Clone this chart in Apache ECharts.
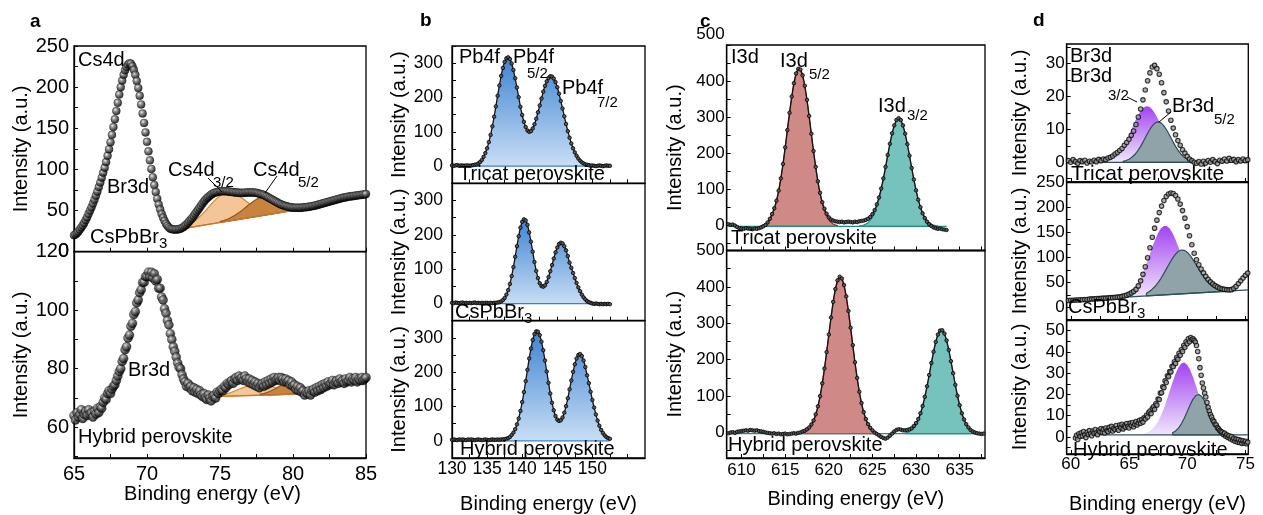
<!DOCTYPE html>
<html>
<head>
<meta charset="utf-8">
<title>XPS core-level spectra</title>
<script src="https://cdn.jsdelivr.net/npm/echarts@6/dist/echarts.min.js"></script>
<style>
  html, body { margin: 0; padding: 0; background: #ffffff; }
  #chart { width: 1263px; height: 515px; }
</style>
</head>
<body>
<div id="chart"></div>
<script>
// ---------------- measured spectra (binding energy grid: start + step) ----------------
// (a) Cs4d / Br3d region, 65–85 eV, 0.1 eV step
const A_START = 65.0, A_STEP = 0.1;
const aCsPbBr3 = [
  20,21,22.5,24.5,27,29.5,32,35,38.5,42,
  46,50,54,58.5,63,68,73,78.5,84,90,
  96,102,109,116.5,124.5,133,142,151.5,161,171,
  181,191,200,208,215,220.5,224.5,227.5,229,228.5,
  225.5,221,215,207.5,199,189.5,179,168,156.5,145,
  133.5,122,111,100.5,90.5,81,72.5,64.5,57.5,51.5,
  46,41.5,37.5,34,31.5,29.5,28,27.5,27,27,
  27,27,27.5,28,29,30,31.5,33,35,37,
  39,41,43.5,46,48.5,51,53.5,56,58.5,61,
  63,65,66.5,68,69.5,70.5,71.5,72,72.5,73,
  73.5,73.5,73.5,73.5,73.5,73.5,73,73,72.5,72.5,
  72,72,72,71.5,71.5,71.5,71.5,71.5,72,72,
  72,72,72,72,71.5,71.5,71,70.5,70,69.5,
  69,68,67,66,65,64,63,62,61,60,
  59,58,57.5,56.5,56,55.5,55,54.5,54,54,
  53.5,53.5,53.5,53.5,53.5,53.5,53.5,54,54,54,
  54.5,54.5,55,55.5,55.5,56,56.5,57,57.5,58,
  58.5,59,59.5,60,60.5,61,61.5,62,62.5,63,
  63.5,64,64.5,65,65.5,66,66,66.5,67,67,
  67.5,67.5,68,68,68.5,68.5,69,69,69.5,69.5,
  70
];
const aHybrid = [
  64,62.5,65,63.5,64.5,66,63,64.5,65.5,64,
  66,64.5,65,63.5,65.5,64.5,66.5,65,67,66.5,
  68.5,70,69.5,71.5,72.5,71.5,73,74,74.5,76,
  77.5,79,80,82.5,83.5,86.5,87.5,90.5,91.5,94.5,
  95.5,98.5,99.5,102.5,103.5,106,107,109.5,109.5,111.5,
  111.5,113,111.5,113,111,112.5,110,110.5,107.5,107.5,
  104.5,103.5,100.5,99,96.5,95,92,90,87.5,86,
  84,82,80.5,80,78,76.5,75.5,74,75,73.5,
  74,72.5,73.5,72,73,71.5,72.5,71,70.5,71.5,
  70,69.5,71,70,69,70.5,71,70,72,71.5,
  72.5,73,72.5,74,73.5,75,74.5,75.5,76,75,
  76.5,77,76,77.5,76.5,77,76,77.5,76.5,75.5,
  76.5,75,76,74.5,75.5,74,75,73.5,74.5,75,
  74,75.5,74.5,76,75,76.5,75.5,77,76,76.5,
  77,76,77,76.5,75.5,76.5,75.5,76,74.5,75.5,
  74,74.5,73,74,72.5,73.5,72,72.5,71,72,
  71.5,72.5,71,72.5,73,72,73.5,72.5,74,73,
  74.5,73.5,75,74,75.5,74.5,75,76,74.5,75.5,
  76,75,76.5,75.5,76,75,76.5,75.5,76,77,
  75.5,76.5,76,77,75.5,76.5,76,77,76,76.5,
  77
];
// (a) fitted Cs4d components and linear background
const aTopCs32 = [28.6,30.2,32.0,34.4,37.3,40.9,45.0,49.7,54.7,59.6,64.2,68.1,70.8,72.2,72.2,71.0,68.6,65.4,62.0,58.5,55.2,52.6,50.5,49.0,48.0,47.7,47.6,47.7];
const aTopCs32Start = 72.25;
const aTopCs32Base = [[79.0, 47.1], [72.25, 27.4]];
const aTopCs52 = [36.5,37.8,39.5,41.5,44.1,46.9,50.2,53.8,57.3,60.7,63.6,65.7,66.9,67.1,66.5,65.1,63.1,61.1,59.0,57.1,55.8,54.7,54.1,53.8,54.0];
const aTopCs52Start = 75.0;
const aTopCs52Base = [[81.0, 53.0], [75.0, 35.5]];
const aTopBackground = [[71.9, 26.4], [81.0, 53.0]];
const aBotCs32 = [70.6,70.8,71.0,71.2,71.5,71.9,72.4,72.9,73.4,73.9,74.4,74.7,74.9,74.9,74.8,74.5,74.1,73.6,73.2,72.7,72.4,72.1,71.8,71.7,71.6];
const aBotCs32Start = 74.5;
const aBotCs32Base = [[80.5, 71.4], [74.5, 70.5]];
const aBotCs52 = [71.3,71.5,71.95,72.5,73.1,73.85,74.5,75.0,75.26,75.2,74.86,74.3,73.7,73.1,72.6,72.2,71.9,71.8];
const aBotCs52Start = 77.75;
const aBotCs52Base = [[82.0, 71.6], [77.75, 71.0]];
const aBotBackground = [[73.85, 70.4], [82.1, 71.6]];

// (b) Pb4f, 130–152.5 eV, 0.25 eV step
const B_START = 130.0, B_STEP = 0.25;
const bTricat = [
  2,1,2,3,1,2,2,1,2,2,
  1,2,3,4,5,8,12,18,27,38,
  52,70,91,116,144,174,205,235,263,286,
  304,314,317,312,299,280,256,229,201,173,
  149,129,114,104,100,102,110,122,138,157,
  177,197,217,234,247,257,262,261,255,245,
  230,211,190,168,145,123,102,83,66,52,
  40,30,22,16,11,8,5,4,3,1,
  2,1,0,1,2,1,0,1,2,1,
  1
];
const bCsPbBr3 = [
  2,1,3,2,1,2,3,1,2,1,
  2,1,2,3,1,2,1,2,1,2,
  2,1,2,1,2,2,3,4,6,10,
  16,26,39,57,80,106,136,167,196,221,
  238,245,242,229,207,180,151,121,95,74,
  59,51,49,53,63,77,94,112,131,149,
  163,173,177,175,167,155,138,119,104,89,
  74,60,47,36,26,18,12,7,4,2,
  0,-1,0,-1,-2,-1,-2,-1,-2,-1,
  -2
];
const bHybrid = [
  3,4,3,2,4,3,4,3,2,4,
  3,4,3,2,3,4,3,2,3,4,
  3,2,3,4,3,3,4,3,4,4,
  5,6,8,11,17,24,34,48,65,87,
  113,142,174,207,240,269,294,311,319,318,
  308,289,264,234,202,169,138,111,89,72,
  62,58,60,68,82,101,124,150,176,201,
  223,240,250,253,247,234,215,191,168,143,
  119,97,77,59,44,32,23,16,11,8,
  6
];

// (c) I3d, 0.25 eV step
const C_START = 608.5, C_STEP = 0.25;
const cTricat = [
  3,1,2,-1,-5,-8,-9,-10,-8,-9,
  -10,-11,-9,-10,-8,-6,-3,1,8,18,
  31,47,68,96,130,170,216,264,312,357,
  394,421,434,432,416,387,348,303,254,206,
  162,122,90,64,46,32,22,16,13,11,
  10,9,10,8,9,10,9,8,10,9,
  11,12,13,15,18,23,31,42,58,77,
  102,130,162,195,226,255,277,292,297,292,
  277,254,225,193,159,127,97,71,50,33,
  20,10,3,-2,-6,-8,-10,-9,-11,-12,
  -13
];
const cHybrid = [
  -2,0,1,-1,2,3,4,5,6,5,
  7,6,5,6,4,3,2,0,-1,-2,
  -3,-2,-4,-3,-5,-4,-3,-5,-4,-3,
  -2,-3,-1,0,3,5,9,14,22,33,
  50,72,100,135,176,221,269,316,359,394,
  418,428,423,405,374,334,288,240,193,150,
  112,81,56,37,23,13,6,0,-4,-8,
  -12,-15,-17,-14,-9,-3,3,7,9,8,
  6,6,7,9,12,18,26,37,53,73,
  98,127,158,191,222,249,269,280,281,272,
  253,227,196,163,131,101,75,53,36,23,
  14,7,3,0,-2,-3,-4,-3
];
// (c) fitted I3d components (flat background at -3)
const cBackground = -3;
const cTriI52Start = 612.25;
const cTriI52 = [-0.6,1.3,4.4,9.4,17,28.1,43.8,65.1,92.6,126.7,167.1,212.5,260.8,309.1,353.8,391.1,417.6,430.8,429.3,413.3,384.4,345.3,299.6,251.1,203.1,158.6,119.4,86.6,60.3,40.3,25.6,15.3,8.3,3.7,0.9,-0.9];
const cTriI32Start = 623.5;
const cTriI32 = [-1.8,-0.9,0.7,3.3,7.3,13.4,22.2,34.3,50.5,71.1,96.1,125.2,157.2,190.5,222.7,251.5,274.3,289,294,289,274.3,251.5,222.7,190.5,157.2,125.2,96.1,71.1,50.5,34.3,22.2,13.4,7.3,3.3,0.7,-0.9,-1.8];
const cHybI52Start = 617.0;
const cHybI52 = [-0.3,1.8,5.1,10.5,18.6,30.3,46.8,68.9,97.3,132.1,173,218.4,266.2,313.3,356.1,390.9,414.6,424.7,420.3,401.9,371.2,331.1,285.3,237.4,190.7,147.8,110.4,79.5,54.9,36.3,22.8,13.3,7,2.9,0.4];
const cHybI32Start = 628.75;
const cHybI32 = [-1.3,0.1,2.5,6.2,12,20.4,32.3,48.3,68.8,93.9,123,154.9,187.7,218.9,245.9,266,277.1,278.2,269,250.5,224.7,194.1,161.5,129.2,99.5,73.5,52,35.2,22.5,13.4,7.2,3.1,0.5,-1.1];

// (d) Br3d
const D_START = 59.8, D_STEP = 0.2;
const dTricat = [
  0.5,0,0.8,0.2,-0.3,0.5,0.2,0.6,-0.2,0.3,
  0.1,0.6,0.2,0.9,0.5,1.0,0.8,1.3,1.5,1.9,
  2.5,3.0,3.6,4.2,5.2,6.0,7.0,8.2,9.5,11.5,
  13.8,16.2,19.0,22.0,24.8,27.2,29.0,29.5,28.5,26.8,
  24.2,21.2,18.4,15.6,12.8,10.4,8.4,6.6,5.2,3.8,
  2.8,1.8,1.0,0.5,0.0,-0.3,0.2,-0.5,0.3,-0.2,
  0.5,0.0,0.8,0.2,-0.4,0.6,0.3,1.0,0.4,1.2,
  0.6,0.9,0.2,0.8,0.4,1.0,0.5,0.8
];
const dCsPbBr3 = [
  14,14.5,14.5,15,15,15.5,15.5,16,16,16.5,
  17,17,17.5,17.5,18,18.5,18.5,19,19.5,19.5,
  20,20.5,21,22,23,24.5,26.5,29,32,36,
  43,53,66,81,99,119,140,158,174,189,
  202,213,221,226,228,227,223,216,206,193,
  178,161,143,125,108,95,85,76.5,69,62,
  56,51,47,43.5,41,38.5,37,36,35.5,35,
  35.5,38,42,47.5,53,58.5,64,68.5
];
const DH_START = 60.4, DH_STEP = 0.1;
const dHybrid = [
  -0.5,0.8,-1.2,1.5,0.2,2.0,0.5,2.6,1.0,-0.3,
  2.2,1.2,3.0,1.5,0.6,2.8,1.8,3.5,2.0,1.1,
  3.2,2.4,4.0,2.2,3.6,1.9,4.2,3.0,2.5,4.5,
  3.3,5.0,2.8,4.1,3.5,5.4,4.0,3.2,5.6,4.4,
  6.0,3.8,5.2,4.6,6.3,5.0,4.2,6.5,5.4,6.8,
  4.8,6.0,7.2,5.6,6.6,7.8,6.4,8.2,7.0,9.0,
  8.4,10.2,9.4,11.5,12.2,11.0,13.4,14.2,13.0,15.6,
  15.0,17.8,17.6,20.6,20.8,23.6,23.2,26.4,25.6,28.8,
  28.4,30.8,30.6,33.2,33.0,35.4,34.6,37.4,36.6,39.4,
  38.4,41.0,40.2,43.0,42.2,44.8,43.8,46.2,44.8,46.8,
  45.8,46.2,45.4,44.6,43.0,40.2,36.8,32.6,29.0,25.4,
  23.0,20.6,18.8,16.2,14.0,12.2,10.6,9.4,8.0,7.2,
  6.0,5.6,4.4,3.8,3.0,2.6,2.2,1.2,1.8,0.4,
  1.0,-0.2,0.6,-0.8,0.2,-1.4,-0.6,-2.0,-1.0,-2.4,
  -1.2,-2.6,-1.6,-3.0,-1.8,-2.8,-2.0,-3.2,-2.4
];
// (d) fitted Br3d components, 0.25 eV step
const dTriBr32Start = 62.75;
const dTriBr32 = [0.24,0.41,0.68,1.09,1.68,2.5,3.57,4.93,6.56,8.4,10.37,12.34,14.15,15.64,16.65,17.09,16.9,16.1,14.79,13.09,11.17,9.18,7.27,5.55,4.08,2.9,1.98,1.3,0.83,0.51,0.3];
const dTriBr52Start = 64.5;
const dTriBr52 = [0.3,0.54,0.93,1.52,2.36,3.47,4.85,6.45,8.14,9.75,11.09,11.99,12.3,11.99,11.09,9.75,8.14,6.45,4.85,3.47,2.36,1.52,0.93,0.54,0.3];
const dTriBackground = [[59.8, 0], [75.2, 0]];
const dCsBr32Start = 64.5;
const dCsBr32 = [23.1,25.5,28.8,33.7,40.2,48.8,59.6,72.7,87.6,103.7,120.1,135.3,148.3,157.7,162.5,162.4,157.2,147.8,134.9,120,104.3,89,75.1,63.2,53.5,46,40.5,36.7,34.3,32.8,32.0];
const dCsBr32Base = [[72.0, 30.4], [64.5, 20.1]];
const dCsBr52Start = 66.5;
const dCsBr52 = [28.5,31.8,36.4,42.2,49.5,58.1,67.9,78.4,88.7,98.4,106.3,111.9,114.4,113.8,110.1,103.7,95.4,85.8,76.1,66.6,58.2,51,45.2,40.9,37.8,35.7,34.4,33.7];
const dCsBr52Base = [[73.25, 32.2], [66.5, 22.9]];
const dCsBackground = [[59.65, 13.5], [75.25, 34.9]];
const dHybBr32Start = 66.25;
const dHybBr32 = [1.5,2.0,2.7,3.7,5.2,7.3,10.1,13.5,17.4,21.6,25.9,29.7,32.7,34.5,35.0,34.0,31.6,28.2,24.2,19.9,15.8,12.0,8.9,6.4,4.6,3.2,2.3,1.8];
const dHybBr32Base = [[73.0, 1], [66.25, 1]];
const dHybBr52Start = 68.75;
const dHybBr52 = [2.0,2.8,4.2,6.2,8.8,11.9,15.0,17.8,19.5,20.0,19.0,16.8,13.8,10.6,7.7,5.3,3.6,2.4,1.7];
const dHybBr52Base = [[73.25, 1], [68.75, 1]];
const dHybBackground = [[60.4, 1], [75.2, 1]];

// ---------------- axis ticks and tick labels ----------------
const aTicksX = [65,67.5,70,72.5,75,77.5,80,82.5,85];
const aLabelsX = [65,70,75,80,85];
const bTicksX = [130,132.5,135,137.5,140,142.5,145,147.5,150,152.5,155];
const bLabelsX = [130,135,140,145,150];
const cTicksX = [610,612.5,615,617.5,620,622.5,625,627.5,630,632.5,635,637.5];
const cLabelsX = [610,615,620,625,630,635];
const dTicksX = [60,62.5,65,67.5,70,72.5,75];
const dLabelsX = [60,65,70,75];
const aTopTicksY = [0,25,50,75,100,125,150,175,200,225,250];
const aTopLabelsY = [0,50,100,150,200,250];
const aBotTicksY = [50,60,70,80,90,100,110,120];
const aBotLabelsY = [60,80,100,120];
const bTicksY = [-50,0,50,100,150,200,250,300,350];
const bLabelsY = [0,100,200,300];
const cTicksY = [-50,0,50,100,150,200,250,300,350,400,450,500];
const cLabelsY = [0,100,200,300,400,500];
const dTopTicksY = [-5,0,5,10,15,20,25,30,35];
const dTopLabelsY = [0,10,20,30];
const dMidTicksY = [-25,0,25,50,75,100,125,150,175,200,225,250];
const dMidLabelsY = [0,50,100,150,200,250];
const dBotTicksY = [-5,0,5,10,15,20,25,30,35,40,45,50,55];
const dBotLabelsY = [0,10,20,30,40,50];

// ---------------- building the chart ----------------
const FONT = '"Liberation Sans", Arial, Helvetica, sans-serif';

function grid(start, step, vals) {
  return vals.map((v, i) => [Math.round((start + i * step) * 1000) / 1000, v]);
}

// panel frames: [left, top, width, height]
const frames = [
  [74, 46, 292, 205.7], [74, 251.7, 292, 206.3],
  [452, 46, 193, 137.3], [452, 183.3, 193, 137.4], [452, 320.7, 193, 137.3],
  [726.7, 45, 258.3, 205.5], [726.7, 250.5, 258.3, 207.5],
  [1066.7, 44, 181.6, 138], [1066.7, 182, 181.6, 138], [1066.7, 320, 181.6, 138]
];

// per panel: x range, ticks, labels, font size, whether bottom
const xSpec = [
  [65, 85, aTicksX, aLabelsX, 20, false, 6, 20],
  [65, 85, aTicksX, aLabelsX, 20, true, 6, 20],
  [130, 157.5, bTicksX, bLabelsX, 17.5, false, 2, 36],
  [130, 157.5, bTicksX, bLabelsX, 17.5, false, 2, 36],
  [130, 157.5, bTicksX, bLabelsX, 17.5, true, 2, 36],
  [608.3, 637.9, cTicksX, cLabelsX, 17, false, 4, 31],
  [608.3, 637.9, cTicksX, cLabelsX, 17, true, 4, 31],
  [59.65, 75.25, dTicksX, dLabelsX, 17, false, 2, 40],
  [59.65, 75.25, dTicksX, dLabelsX, 17, false, 2, 40],
  [59.65, 75.25, dTicksX, dLabelsX, 17, true, 2, 40]
];
const ySpec = [
  [0, 250, aTopTicksY, aTopLabelsY, 20, 5, 41],
  [49.5, 120, aBotTicksY, aBotLabelsY, 20, 5, 41],
  [-50, 350, bTicksY, bLabelsY, 17.5, 9, 38],
  [-50, 350, bTicksY, bLabelsY, 17.5, 9, 38],
  [-50, 350, bTicksY, bLabelsY, 17.5, 9, 38],
  [-70, 500, cTicksY, cLabelsY, 17, 2, 41],
  [-70, 500, cTicksY, cLabelsY, 17, 2, 41],
  [-6, 36, dTopTicksY, dTopLabelsY, 17, 2, 36],
  [-25, 250, dMidTicksY, dMidLabelsY, 17, 2, 36],
  [-8, 55, dBotTicksY, dBotLabelsY, 17, 2, 36]
];

const grids = frames.map(f => ({
  left: f[0], top: f[1], width: f[2], height: f[3],
  show: true, borderColor: '#000', borderWidth: 1.3, backgroundColor: 'transparent'
}));

const xAxes = xSpec.map((s, i) => ({
  type: 'value', gridIndex: i, min: s[0], max: s[1],
  axisLine: { show: true, onZero: false, lineStyle: { color: '#000', width: 1.3 } },
  axisTick: { show: true, inside: true, length: 4, customValues: s[2], lineStyle: { color: '#000', width: 1 } },
  axisLabel: { show: s[5], customValues: s[3], fontSize: s[4], fontFamily: FONT, color: '#000', margin: s[6] },
  splitLine: { show: false },
  name: s[5] ? 'Binding energy (eV)' : '',
  nameLocation: 'middle', nameGap: s[7],
  nameTextStyle: { fontSize: 20, fontFamily: FONT, color: '#000', padding: i === 1 ? [0, 15, 0, 0] : 0 }
}));

const yAxes = ySpec.map((s, i) => {
  const label = { customValues: s[3], fontSize: s[4], fontFamily: FONT, color: '#000', margin: s[5] };
  if (i === 5) {
    // the top tick label of the upper I3d frame sits a little higher
    label.formatter = v => (v === 500 ? '{hi|500}' : String(v));
    label.rich = { hi: { fontSize: s[4], fontFamily: FONT, color: '#000', padding: [0, 0, 22, 0] } };
  }
  return {
    type: 'value', gridIndex: i, min: s[0], max: s[1],
    axisLine: { show: true, onZero: false, lineStyle: { color: '#000', width: 1.3 } },
    axisTick: { show: true, inside: true, length: 4, customValues: s[2], lineStyle: { color: '#000', width: 1 } },
    axisLabel: label,
    splitLine: { show: false },
    name: 'Intensity (a.u.)', nameLocation: 'middle', nameGap: s[6],
    nameTextStyle: { fontSize: 20, fontFamily: FONT, color: '#000' }
  };
});

const lin = (c0, c1) => new echarts.graphic.LinearGradient(0, 0, 0, 1, [
  { offset: 0, color: c0 }, { offset: 1, color: c1 }
]);

// filled fit component: upper curve from the fit values, closed along its background
function fitFill(g, start, step, vals, base, fill, stroke, z) {
  const upper = grid(start, step, vals);
  return {
    type: 'custom', xAxisIndex: g, yAxisIndex: g, z: z, silent: true, clip: true,
    data: [upper[0]], encode: { x: 0, y: 1 },
    renderItem: function (params, api) {
      const ring = upper.concat(base).map(p => api.coord(p));
      return {
        type: 'polygon', shape: { points: ring },
        style: { fill: fill, stroke: stroke, lineWidth: stroke ? 1.2 : 0, lineJoin: 'round' }
      };
    }
  };
}

function straight(g, pts, color, width, z) {
  return {
    type: 'line', xAxisIndex: g, yAxisIndex: g, data: pts, z: z || 2, silent: true,
    symbol: 'none', lineStyle: { color: color, width: width || 1.2 }
  };
}

const sphere = {
  type: 'radial', x: 0.38, y: 0.35, r: 0.68,
  colorStops: [
    { offset: 0, color: '#f2f2f2' }, { offset: 0.3, color: '#7c7c7c' },
    { offset: 0.75, color: '#1c1c1c' }, { offset: 1, color: '#000000' }
  ]
};

function spheres(g, data, size) {
  return {
    type: 'scatter', xAxisIndex: g, yAxisIndex: g, data: data, z: 4, silent: true,
    symbol: 'circle', symbolSize: size, itemStyle: { color: sphere, borderColor: '#000', borderWidth: 0.4 }
  };
}

function beaded(g, data) {
  return {
    type: 'line', xAxisIndex: g, yAxisIndex: g, data: data, z: 4, silent: true, smooth: 0.2,
    symbol: 'circle', symbolSize: 3.5, showSymbol: true,
    lineStyle: { color: '#151515', width: 1.3 },
    itemStyle: { color: '#5a5a5a', borderColor: '#000', borderWidth: 0.8 }
  };
}

function dots(g, data, size) {
  return {
    type: 'scatter', xAxisIndex: g, yAxisIndex: g, data: data, z: 4, silent: true,
    symbol: 'circle', symbolSize: size,
    itemStyle: { color: '#9a9a9a', borderColor: '#0a0a0a', borderWidth: 1.1 }
  };
}

const CS32_FILL = '#f3c597', CS32_EDGE = '#d9862c';
const CS52_FILL = '#c8843f', CS52_EDGE = '#8e561e';
const BLUE_EDGE = '#3b7fd0';
const RED_FILL = '#cf8987', RED_EDGE = '#b3262e';
const TEAL_FILL = '#76c2bc', TEAL_EDGE = '#1f8f86';
const GREY_FILL = '#8fa3a9', GREY_EDGE = '#2c5058';

const bFill = () => lin('#3f84d2', '#c9def5');
const purple = () => lin('#a243f2', '#f1e6fb');

const series = [
  // (a)
  fitFill(0, aTopCs32Start, 0.25, aTopCs32, aTopCs32Base, CS32_FILL, CS32_EDGE, 1),
  fitFill(0, aTopCs52Start, 0.25, aTopCs52, aTopCs52Base, CS52_FILL, CS52_EDGE, 1),
  straight(0, aTopBackground, '#c9772a', 1.3),
  spheres(0, grid(A_START, A_STEP, aCsPbBr3), 8),
  fitFill(1, aBotCs32Start, 0.25, aBotCs32, aBotCs32Base, CS32_FILL, CS32_EDGE, 1),
  fitFill(1, aBotCs52Start, 0.25, aBotCs52, aBotCs52Base, CS52_FILL, CS52_EDGE, 1),
  straight(1, aBotBackground, '#c9772a', 1.3),
  spheres(1, grid(A_START, A_STEP, aHybrid), 9),
  // (b)
  fitFill(2, B_START, B_STEP, bTricat, [[152.5, 0], [130, 0]], bFill(), null, 1),
  straight(2, [[130, 0], [152.5, 0]], BLUE_EDGE, 1.2),
  beaded(2, grid(B_START, B_STEP, bTricat)),
  fitFill(3, B_START, B_STEP, bCsPbBr3, [[152.5, 0], [130, 0]], bFill(), null, 1),
  straight(3, [[130, 0], [152.5, 0]], BLUE_EDGE, 1.2),
  beaded(3, grid(B_START, B_STEP, bCsPbBr3)),
  fitFill(4, B_START, B_STEP, bHybrid, [[152.5, 0], [130, 0]], bFill(), null, 1),
  straight(4, [[130, 0], [152.5, 0]], BLUE_EDGE, 1.2),
  beaded(4, grid(B_START, B_STEP, bHybrid)),
  // (c)
  fitFill(5, cTriI52Start, 0.25, cTriI52, [[621.0, cBackground], [612.25, cBackground]], RED_FILL, RED_EDGE, 1),
  fitFill(5, cTriI32Start, 0.25, cTriI32, [[632.5, cBackground], [623.5, cBackground]], TEAL_FILL, TEAL_EDGE, 1),
  straight(5, [[608.5, cBackground], [633.5, cBackground]], TEAL_EDGE, 1.3),
  beaded(5, grid(C_START, C_STEP, cTricat)),
  fitFill(6, cHybI52Start, 0.25, cHybI52, [[625.5, cBackground], [617.0, cBackground]], RED_FILL, RED_EDGE, 1),
  fitFill(6, cHybI32Start, 0.25, cHybI32, [[637.0, cBackground], [628.75, cBackground]], TEAL_FILL, TEAL_EDGE, 1),
  straight(6, [[608.5, cBackground], [637.75, cBackground]], TEAL_EDGE, 1.3),
  beaded(6, grid(C_START, C_STEP, cHybrid)),
  // (d)
  fitFill(7, dTriBr32Start, 0.25, dTriBr32, [[70.25, 0], [62.75, 0]], purple(), null, 1),
  fitFill(7, dTriBr52Start, 0.25, dTriBr52, [[70.5, 0], [64.5, 0]], GREY_FILL, GREY_EDGE, 1),
  straight(7, dTriBackground, GREY_EDGE, 1.2),
  dots(7, grid(D_START, D_STEP, dTricat), 4.5),
  fitFill(8, dCsBr32Start, 0.25, dCsBr32, dCsBr32Base, purple(), null, 1),
  fitFill(8, dCsBr52Start, 0.25, dCsBr52, dCsBr52Base, GREY_FILL, GREY_EDGE, 1),
  straight(8, dCsBackground, GREY_EDGE, 1.2),
  dots(8, grid(D_START, D_STEP, dCsPbBr3), 4.5),
  fitFill(9, dHybBr32Start, 0.25, dHybBr32, dHybBr32Base, purple(), null, 1),
  fitFill(9, dHybBr52Start, 0.25, dHybBr52, dHybBr52Base, GREY_FILL, GREY_EDGE, 1),
  straight(9, dHybBackground, GREY_EDGE, 1.2),
  dots(9, grid(DH_START, DH_STEP, dHybrid), 4.5)
];

// ---------------- annotations ----------------
function T(x, y, text, size, weight) {
  return {
    type: 'text', x: x, y: y, z: 100, silent: true,
    style: {
      text: text, fill: '#000',
      font: (weight || 'normal') + ' ' + (size || 20) + 'px ' + FONT,
      textAlign: 'left', textVerticalAlign: 'middle', align: 'left', verticalAlign: 'middle'
    }
  };
}
function L(x1, y1, x2, y2) {
  return { type: 'line', z: 100, silent: true, shape: { x1: x1, y1: y1, x2: x2, y2: y2 }, style: { stroke: '#000', lineWidth: 1 } };
}

const notes = [
  // (a)
  T(30, 22, 'a', 19, 'bold'),
  T(78, 60, 'Cs4d'),
  T(107, 187, 'Br3d'),
  T(90, 237, 'CsPbBr'), T(159, 244, '3', 15),
  T(168, 170, 'Cs4d'), T(213, 183, '3/2', 15),
  T(253, 170, 'Cs4d'), T(298, 183, '5/2', 15),
  L(208, 178, 222, 192), L(277, 176, 265, 193),
  T(128, 370, 'Br3d'),
  T(78, 437, 'Hybrid perovskite'),
  // (b)
  T(420, 21, 'b', 19, 'bold'),
  T(459, 57, 'Pb4f'),
  T(513, 57, 'Pb4f'), T(527, 74, '5/2', 15),
  T(562, 88, 'Pb4f'), T(597, 103, '7/2', 15),
  T(459, 174, 'Tricat perovskite'),
  T(455, 312, 'CsPbBr'), T(524, 319, '3', 15),
  T(460, 449, 'Hybrid perovskite'),
  // (c)
  T(700, 22, 'c', 19, 'bold'),
  T(731, 57, 'I3d'),
  T(780, 61, 'I3d'), T(809, 75, '5/2', 15),
  T(878, 106, 'I3d'), T(907, 116, '3/2', 15),
  T(731, 238, 'Tricat perovskite'),
  T(728, 445, 'Hybrid perovskite'),
  // (d)
  T(1033, 21, 'd', 19, 'bold'),
  T(1070, 56, 'Br3d'),
  T(1070, 76, 'Br3d'), T(1108, 96, '3/2', 15),
  L(1127, 97, 1137, 102),
  T(1172, 106, 'Br3d'), T(1214, 120, '5/2', 15),
  L(1171, 112, 1159, 122),
  T(1071, 174, 'Tricat perovskite', 21),
  T(1068, 307, 'CsPbBr'), T(1137, 314, '3', 15),
  T(1073, 450, 'Hybrid perovskite')
];

const chart = echarts.init(document.getElementById('chart'), null, { renderer: 'canvas' });
chart.setOption({
  animation: false,
  backgroundColor: '#ffffff',
  textStyle: { fontFamily: FONT },
  grid: grids,
  xAxis: xAxes,
  yAxis: yAxes,
  series: series,
  graphic: { elements: notes }
});
</script>
</body>
</html>
